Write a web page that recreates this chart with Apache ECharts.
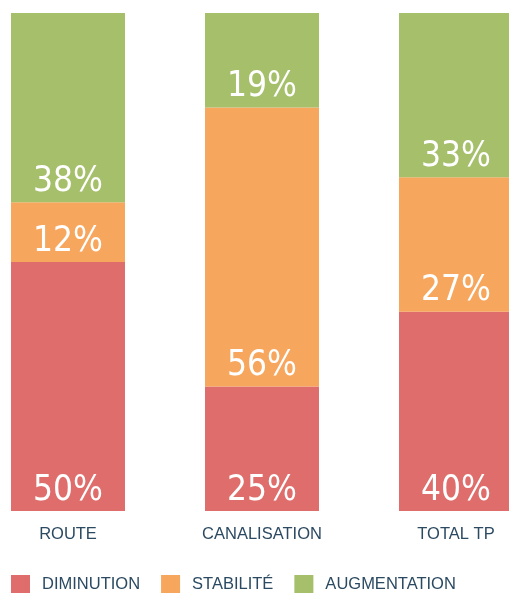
<!DOCTYPE html>
<html><head><meta charset="utf-8">
<script src="https://cdn.jsdelivr.net/npm/echarts@6/dist/echarts.min.js"></script>
<style>html,body{margin:0;padding:0;background:#fff}#c{width:509px;height:593px}</style>
</head><body><div id="c"></div>
<script>
const categories = ['ROUTE', 'CANALISATION', 'TOTAL TP'];
const diminution = [50, 25, 40];
const stabilite = [12, 56, 27];
const augmentation = [38, 19, 33];
const seriesNames = ['DIMINUTION', 'STABILITÉ', 'AUGMENTATION'];
const colors = ['#de6d6b', '#f7a65d', '#a5bf6b'];

const labelStyle = {
  show: true, position: 'insideBottom', distance: 3,
  color: '#fff', fontSize: 35, fontFamily: 'DejaVu Sans Condensed, Liberation Sans Narrow, sans-serif',
  formatter: '{c}%'
};
const mk = (name, data, i) => ({
  name, type: 'bar', stack: 'a', data, barWidth: 114,
  itemStyle: { color: colors[i] }, label: labelStyle
});
const chart = echarts.init(document.getElementById('c'));
chart.setOption({
  animation: false,
  grid: { left: -29, width: 582, top: 13, bottom: 82, outerBoundsMode: 'none', containLabel: false },
  legend: {
    left: 6, top: 570, itemWidth: 19, itemHeight: 19, itemGap: 21,
    icon: 'rect',
    textStyle: { color: '#2b4a62', fontSize: 16.5, fontFamily: 'Liberation Sans, sans-serif', padding: [0, 0, 0, 7] },
    data: seriesNames
  },
  xAxis: {
    type: 'category', data: categories,
    axisLine: { show: false }, axisTick: { show: false },
    axisLabel: { color: '#2b4a62', fontSize: 16.5, margin: 15, fontFamily: 'Liberation Sans, sans-serif' }
  },
  yAxis: { type: 'value', min: 0, max: 100, show: false, splitLine: { show: false } },
  series: [mk(seriesNames[0], diminution, 0), mk(seriesNames[1], stabilite, 1), mk(seriesNames[2], augmentation, 2)]
});
</script></body></html>
